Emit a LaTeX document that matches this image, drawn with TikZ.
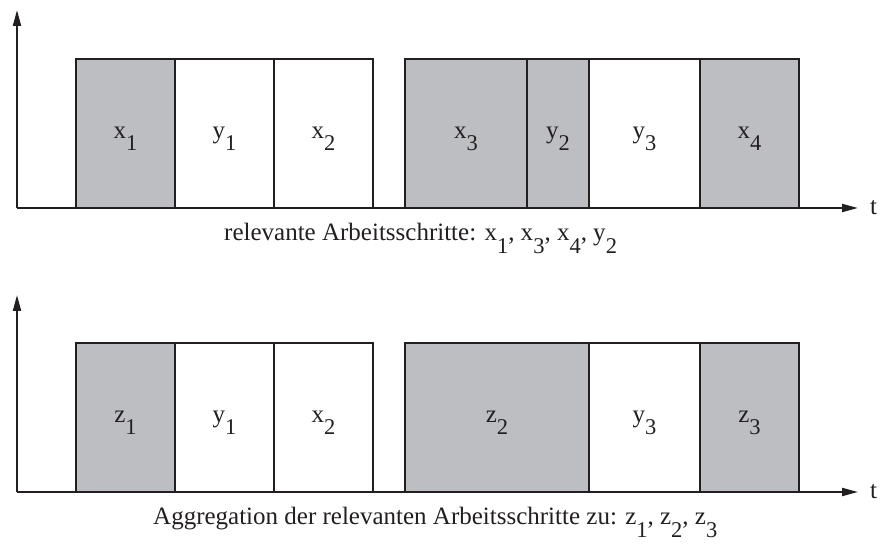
\documentclass[tikz,border=0pt]{standalone}
\usepackage{fontspec}
\setmainfont{Liberation Serif}
\usetikzlibrary{arrows.meta, positioning}
\definecolor{ink}{HTML}{231F20}
\definecolor{rel}{HTML}{BDBEC1}
\newcommand{\ix}[2]{#1\raisebox{-0.5em}{\scalebox{0.9}{#2}}}

\begin{document}
\begin{tikzpicture}[
    x = 1pt, y = 1pt,
    > = {Triangle[length=16pt, width=8pt]},
    font = \fontsize{25}{30}\selectfont,
    every node/.style = {text=ink},
    stepbox/.style = {draw=ink, line width=2pt, outer sep=0pt, inner sep=0pt,
                      minimum height=149pt, text height=10pt, text depth=0pt},
    relbox/.style  = {stepbox, fill=rel},
    otherbox/.style= {stepbox, fill=white},
    axis/.style    = {->, draw=ink, line width=2pt},
    note/.style    = {anchor=base west, inner sep=0pt},
]
\useasboundingbox (0,0) rectangle (880,543);

% ------------------------------------------ upper row --------------------------------------------
\coordinate (o1) at (17,335);
\coordinate (yt1) at (17,533);
\coordinate (xt1) at (858,335);
\draw[axis] (o1) -- (yt1);

\node[relbox, minimum width=99pt, anchor=south west] (a1) at (76,335) {\ix{x}{1}};
\node[otherbox, minimum width=99pt, right=0pt of a1]  (a2) {\ix{y}{1}};
\node[otherbox, minimum width=99pt, right=0pt of a2]  (a3) {\ix{x}{2}};
\node[relbox, minimum width=122pt, right=32pt of a3]  (a4) {\ix{x}{3}};
\node[relbox, minimum width=62pt, right=0pt of a4]    (a5) {\ix{y}{2}};
\node[otherbox, minimum width=111pt, right=0pt of a5] (a6) {\ix{y}{3}};
\node[relbox, minimum width=99pt, right=0pt of a6]    (a7) {\ix{x}{4}};

\draw[axis] (o1) -- (xt1);
\node[note] (t1) at ([xshift=12pt, yshift=-7pt]xt1) {t};
\node[note] (cap1) at (224,302)
    {relevante Arbeitsschritte: \ix{x}{1}, \ix{x}{3}, \ix{x}{4}, \ix{y}{2}};

% ------------------------------------------ lower row --------------------------------------------
\coordinate (o2) at (17,51);
\coordinate (yt2) at (17,248);
\coordinate (xt2) at (858,51);
\draw[axis] (o2) -- (yt2);

\node[relbox, minimum width=99pt, anchor=south west] (b1) at (76,51) {\ix{z}{1}};
\node[otherbox, minimum width=99pt, right=0pt of b1]  (b2) {\ix{y}{1}};
\node[otherbox, minimum width=99pt, right=0pt of b2]  (b3) {\ix{x}{2}};
\node[relbox, minimum width=184pt, right=32pt of b3]  (b4) {\ix{z}{2}};
\node[otherbox, minimum width=111pt, right=0pt of b4] (b5) {\ix{y}{3}};
\node[relbox, minimum width=99pt, right=0pt of b5]    (b6) {\ix{z}{3}};

\draw[axis] (o2) -- (xt2);
\node[note] (t2) at ([xshift=12pt, yshift=-7pt]xt2) {t};
\node[note] (cap2) at (153,18)
    {Aggregation der relevanten Arbeitsschritte zu: \ix{z}{1}, \ix{z}{2}, \ix{z}{3}};

\end{tikzpicture}
\end{document}
